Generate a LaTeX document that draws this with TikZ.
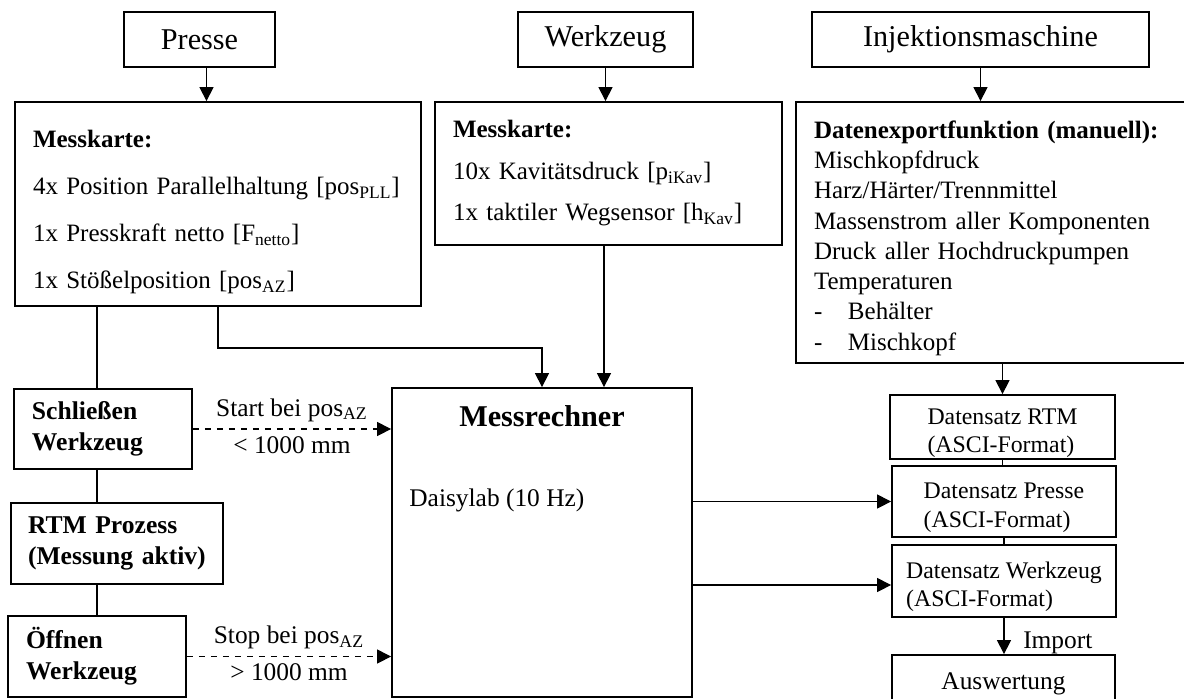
\documentclass[tikz,border=0pt]{standalone}
\usepackage{fontspec}
\setmainfont{Liberation Serif}
\usetikzlibrary{arrows.meta}

\tikzset{
  box/.style={draw, line width=0.9pt, font=\fontsize{12.7}{15}\selectfont},
  headbox/.style={box, font=\fontsize{15.1}{18}\selectfont, inner sep=0pt},
  listbox/.style={box, align=left, inner xsep=9pt},
  setbox/.style={box, align=left, inner ysep=0pt, font=\fontsize{11.9}{14.2}\selectfont},
  arr/.style={-{Triangle[length=7pt,width=7pt]}, line width=0.6pt},
  dasharr/.style={arr, dashed},
  lbl/.style={font=\fontsize{12.7}{15}\selectfont}
}

\begin{document}
\begin{tikzpicture}[x=0.5pt,y=-0.5pt]
\useasboundingbox (0,0) rectangle (1184,698);
\clip (0,0) rectangle (1184,698);

\node[headbox, minimum width=75.5pt, minimum height=27.5pt] (presse) at (199.5,39.5) {Presse};
\node[headbox, minimum width=87.5pt, minimum height=27.5pt] (werkzeug) at (605.5,39.5) {Werkzeug};
\node[headbox, minimum width=168.5pt, minimum height=27.5pt] (injektion) at (980.5,39.5) {Injektionsmaschine};

\node[listbox, text width=185pt, minimum height=102pt, font=\fontsize{12.5}{15}\selectfont] (karteP) at (218,204) {\rule{0pt}{17pt}\textbf{Messkarte:}\\[8.5pt]
  4x Position Parallelhaltung [pos\textsubscript{PLL}]\\[8.5pt]
  1x Presskraft netto [F\textsubscript{netto}]\\[8.5pt]
  1x St\"o\ss elposition [pos\textsubscript{AZ}]};
\node[listbox, text width=155.5pt, minimum height=71.5pt, font=\fontsize{12.5}{15}\selectfont] (karteW) at (608.5,173.5) {\textbf{Messkarte:}\\[5.75pt]
  10x Kavit\"atsdruck [p\textsubscript{iKav}]\\[5.75pt]
  1x taktiler Wegsensor [h\textsubscript{Kav}]};
\node[listbox, text width=182pt, minimum height=130.5pt, font=\fontsize{12.5}{15.15}\selectfont] (export) at (996,232.5) {\rule{0pt}{14.4pt}\textbf{Datenexportfunktion (manuell):}\\
  Mischkopfdruck\\
  Harz/H\"arter/Trennmittel\\
  Massenstrom aller Komponenten\\
  Druck aller Hochdruckpumpen\\
  Temperaturen\\
  \makebox[17pt][l]{-}Beh\"alter\\
  \makebox[17pt][l]{-}Mischkopf};

\node[listbox, text width=71pt, minimum height=40pt, font=\fontsize{12.8}{15.5}\selectfont\bfseries] (schliessen) at (103,429) {Schlie\ss en\\Werkzeug};
\node[listbox, text width=89pt, minimum height=40.5pt, inner xsep=8.5pt, font=\fontsize{12.8}{15.5}\selectfont\bfseries] (rtm) at (117,543.5) {RTM Prozess\\\mbox{(Messung aktiv)}};
\node[listbox, text width=71pt, minimum height=40.5pt, font=\fontsize{12.8}{15.5}\selectfont\bfseries] (oeffnen) at (97,656.5) {\"Offnen\\Werkzeug};

\node[box, minimum width=150pt, minimum height=154.5pt] (rechner) at (542,542.5) {};
\node[anchor=base, font=\fontsize{15.1}{18}\selectfont\bfseries] (rtitle) at (542,426) {Messrechner};
\node[anchor=base west, lbl, inner sep=0pt] (daisy) at (409,506) {Daisylab (10 Hz)};

\node[setbox, minimum width=112.5pt, minimum height=32pt] (dsRTM) at (1002.5,427) {\rule{0pt}{14pt}Datensatz RTM\\(ASCI-Format)};
\node[setbox, minimum width=112pt, minimum height=35.5pt] (dsPresse) at (1004,501.5) {\rule{0pt}{14pt}Datensatz Presse\\(ASCI-Format)};
\node[setbox, minimum width=112pt, minimum height=36pt] (dsWerk) at (1004,581) {\rule{0pt}{14pt}Datensatz Werkzeug\\(ASCI-Format)};
\node[box, minimum width=111.5pt, minimum height=29pt] (auswertung) at (1003.5,684) {Auswertung};

\coordinate (spine) at (97,0);

\draw[arr] ([xshift=3.5pt]presse.south) -- ([xshift=3.5pt]presse.south |- karteP.north);
\draw[arr] (werkzeug.south) -- (werkzeug.south |- karteW.north);
\draw[arr] (injektion.south) -- (injektion.south |- export.north);

\draw[line width=0.6pt] (spine |- karteP.south) -- (spine |- schliessen.north);
\draw[line width=0.6pt] (spine |- schliessen.south) -- (spine |- rtm.north);
\draw[line width=0.6pt] (spine |- rtm.south) -- (spine |- oeffnen.north);

\draw[arr] (karteP.south) -- ++(0,41) -| (rechner.north);
\draw[arr] ([xshift=-2.25pt]karteW.south) -- ([xshift=-2.25pt]karteW.south |- rechner.north);

\draw[dasharr] (schliessen.east) -- (schliessen.east -| rechner.west)
  node[midway, above, lbl] (startlbl) {Start bei pos\textsubscript{AZ}}
  node[midway, below, lbl] (startval) {< 1000 mm};
\draw[dasharr] (oeffnen.east) -- (oeffnen.east -| rechner.west)
  node[midway, above, lbl] (stoplbl) {Stop bei pos\textsubscript{AZ}}
  node[midway, below, lbl] (stopval) {> 1000 mm};

\draw[arr] (dsPresse.west -| rechner.east) -- (dsPresse.west);
\draw[arr] ([yshift=-2pt]dsWerk.west -| rechner.east) -- ([yshift=-2pt]dsWerk.west);

\draw[arr] (dsRTM.north |- export.south) -- (dsRTM.north);
\draw[line width=0.6pt] (dsRTM.south) -- (dsRTM.south |- dsPresse.north);
\draw[line width=0.6pt] (dsPresse.south) -- (dsPresse.south |- dsWerk.north);
\draw[arr] (dsWerk.south) -- (dsWerk.south |- auswertung.north)
  node[pos=0.7, right, xshift=6pt, lbl] (importlbl) {Import};
\end{tikzpicture}
\end{document}
